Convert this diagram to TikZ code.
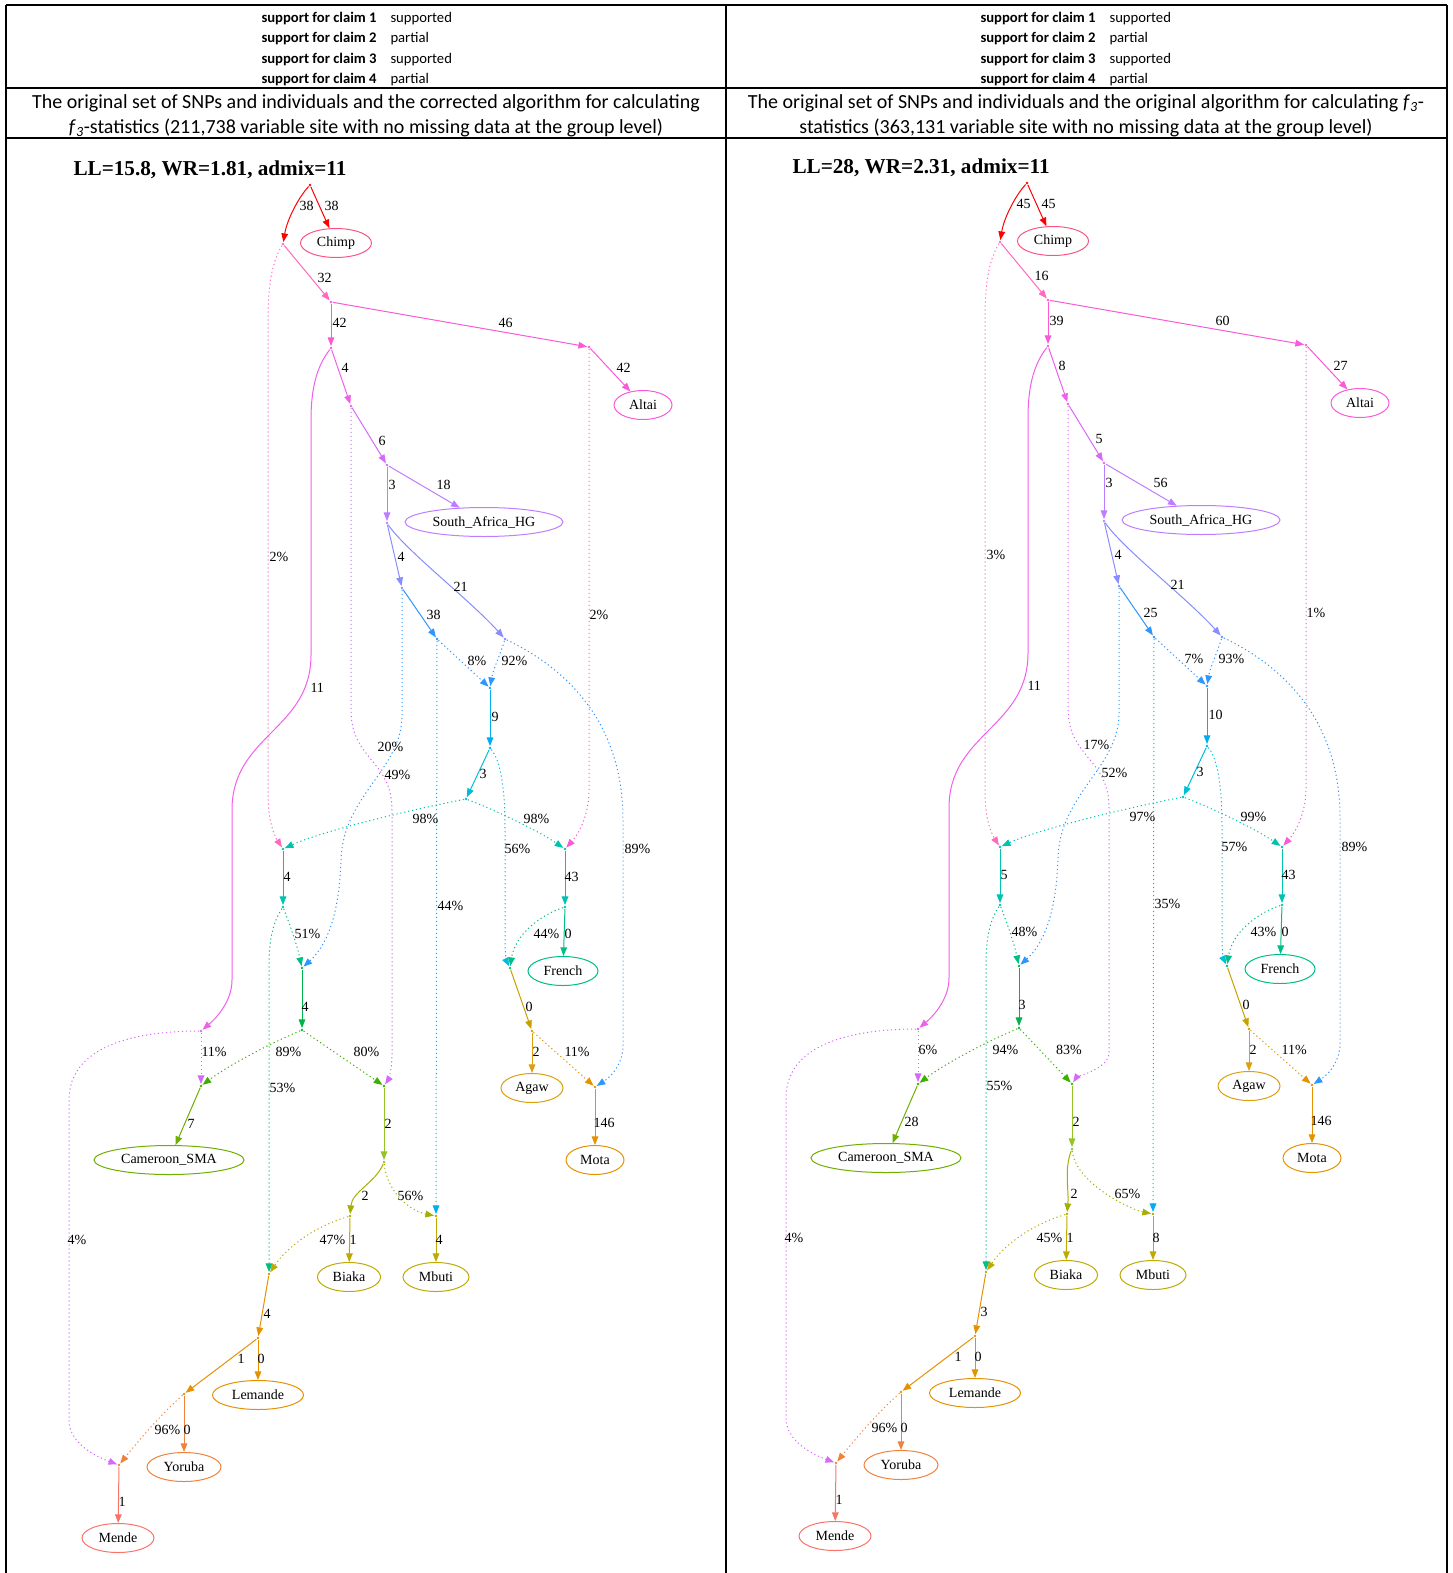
\documentclass[tikz,border=0pt]{standalone}
\usepackage{fontspec}
\setmainfont{Carlito}
\newfontfamily\timesrm{Liberation Serif}
\usetikzlibrary{arrows.meta,shapes.geometric}

\definecolor{cRed}{RGB}{255,0,0}
\definecolor{cChimp}{RGB}{250,85,130}
\definecolor{cRose}{RGB}{255,105,190}
\definecolor{cPink}{RGB}{250,90,215}
\definecolor{cMag}{RGB}{240,95,235}
\definecolor{cViolet}{RGB}{215,105,250}
\definecolor{cLav}{RGB}{190,125,255}
\definecolor{cPeri}{RGB}{135,140,255}
\definecolor{cBlue}{RGB}{45,150,255}
\definecolor{cSky}{RGB}{0,175,240}
\definecolor{cCyan}{RGB}{0,190,215}
\definecolor{cTeal}{RGB}{0,195,175}
\definecolor{cJade}{RGB}{0,190,135}
\definecolor{cGreen}{RGB}{0,180,75}
\definecolor{cLGreen}{RGB}{60,175,0}
\definecolor{cYGreen}{RGB}{110,175,0}
\definecolor{cLime}{RGB}{150,195,40}
\definecolor{cOlive}{RGB}{165,175,0}
\definecolor{cKhaki}{RGB}{190,170,0}
\definecolor{cGold}{RGB}{200,160,0}
\definecolor{cAmber}{RGB}{220,160,15}
\definecolor{cOrange}{RGB}{230,145,0}
\definecolor{cCoral}{RGB}{240,130,60}
\definecolor{cSalmon}{RGB}{250,115,105}

\newcommand\gvfont{\timesrm\fontsize{10.5}{12}\selectfont}
\newcommand\setlabels[1]{\foreach \k/\val in {#1}{\expandafter\xdef\csname lbl\k\endcsname{\val}}}
\newcommand\lb[1]{\csname lbl#1\endcsname}

\tikzset{every picture/.style={line width=0.75pt}}
\tikzset{
  rule/.style={line width=1.5pt, black},
  claim/.style={anchor=west, inner sep=0pt, font=\fontsize{11}{13}\selectfont},
  hdr/.style={align=center, inner sep=0pt, font=\fontsize{15}{18.75}\selectfont},
  ttl/.style={anchor=west, inner sep=0pt, font=\timesrm\bfseries\fontsize{15.9}{18}\selectfont},
  vtx/.style={circle, fill=#1, draw=none, inner sep=0pt, minimum size=2.2pt},
  pop/.style={ellipse, draw=#1, line width=0.75pt, inner sep=0pt, minimum height=21.75pt, font=\gvfont},
  lbl/.style={anchor=west, inner sep=0pt, font=\gvfont},
  gv/.style={draw=#1, line width=0.75pt, -{Triangle[length=6.5pt,width=5pt]}},
  gvdot/.style={gv=#1, dash pattern=on 0.9pt off 2.1pt},
}

% one admixture graph, labels come from \setlabels
\newcommand\admixgraph{%
  %vertices
  \node[vtx=cRed] (r) at (310,185) {};
  \node[vtx=cRose] (v1) at (283,244) {};
  \node[vtx=cPink] (v2) at (331,302) {};
  \node[vtx=cPink] (v3) at (331,348) {};
  \node[vtx=cPink] (v4) at (589,347) {};
  \node[vtx=cMag] (v5) at (351,406) {};
  \node[vtx=cViolet] (v6) at (387,465) {};
  \node[vtx=cLav] (v7) at (387,523) {};
  \node[vtx=cPeri] (v8) at (402,588) {};
  \node[vtx=cPeri] (v9) at (505,639) {};
  \node[vtx=cBlue] (v10) at (437,639) {};
  \node[vtx=cBlue] (v11) at (490,688) {};
  \node[vtx=cSky] (v12) at (490,748) {};
  \node[vtx=cCyan] (v13) at (466,799) {};
  \node[vtx=cTeal] (v14) at (283,849) {};
  \node[vtx=cTeal] (v15) at (565,849) {};
  \node[vtx=cTeal] (v16) at (283,907) {};
  \node[vtx=cTeal] (v17) at (565,907) {};
  \node[vtx=cJade] (v18) at (510,968) {};
  \node[vtx=cGreen] (v19) at (302,968) {};
  \node[vtx=cGreen] (v20) at (302,1030) {};
  \node[vtx=cGold] (v21) at (532,1031) {};
  \node[vtx=cOrange] (v22) at (595,1087) {};
  \node[vtx=cLGreen] (v23) at (201,1086) {};
  \node[vtx=cViolet] (v24) at (201,1031) {};
  \node[vtx=cLGreen] (v25) at (\xB,1086) {};
  \node[vtx=cLime] (v26) at (\xB,\yB) {};
  \node[vtx=cOlive] (v27) at (350,1216) {};
  \node[vtx=cOlive] (v28) at (436,1216) {};
  \node[vtx=cKhaki] (v29) at (269,1274) {};
  \node[vtx=cOrange] (v30) at (258,1338) {};
  \node[vtx=cOrange] (v31) at (184,1394) {};
  \node[vtx=cCoral] (v32) at (119,1465) {};
  %populations
  \node[pop=cChimp, minimum width=53.3pt] (chimp) at (336,243) {Chimp};
  \node[pop=cPink, minimum width=43.5pt] (altai) at (643,405) {Altai};
  \node[pop=cLav, minimum width=118.5pt] (sahg) at (484,522) {South\_Africa\_HG};
  \node[pop=cJade, minimum width=52.5pt] (french) at (563,971) {French};
  \node[pop=cAmber, minimum width=46.5pt] (agaw) at (532,1088) {Agaw};
  \node[pop=cOrange, minimum width=43.5pt] (mota) at (595,1160) {Mota};
  \node[pop=cYGreen, minimum width=112.5pt] (cam) at (169,1160) {Cameroon\_SMA};
  \node[pop=cKhaki, minimum width=47.3pt] (biaka) at (349,1277) {Biaka};
  \node[pop=cKhaki, minimum width=49.5pt] (mbuti) at (436,1277) {Mbuti};
  \node[pop=cOrange, minimum width=68.3pt] (lem) at (258,1395) {Lemande};
  \node[pop=cCoral, minimum width=55.5pt] (yor) at (184,1467) {Yoruba};
  \node[pop=cSalmon, minimum width=54pt] (mende) at (118,1538) {Mende};
  %drift edges
  \draw[gv=cRed] (r) .. controls (298,198) and (287,220) .. (v1);
  \draw[gv=cRed] (r) -- (chimp);
  \draw[gv=cRose] (v1) -- (v2);
  \draw[gv=cPink] (v2) -- (v3);
  \draw[gv=cPink] (v2) -- (v4);
  \draw[gv=cPink] (v4) -- (altai);
  \draw[gv=cMag] (v3) -- (v5);
  \draw[gv=cViolet] (v5) -- (v6);
  \draw[gv=cLav] (v6) -- (v7);
  \draw[gv=cLav] (v6) -- (sahg);
  \draw[gv=cPeri] (v7) -- (v8);
  \draw[gv=cPeri] (v7) .. controls (405,550) and (470,600) .. (v9);
  \draw[gv=cBlue] (v8) -- (v10);
  \draw[gv=cSky] (v11) -- (v12);
  \draw[gv=cCyan] (v12) -- (v13);
  \draw[gv=cMag] (v3) .. controls (318,365) and (311,385) .. (311,420) -- (311,655) .. controls (311,730) and (232,735) .. (232,810) -- (232,980) .. controls (232,1003) and (214,1020) .. (v24);
  \draw[gv=cTeal] (v14) -- (v16);
  \draw[gv=cTeal] (v15) -- (v17);
  \draw[gv=cJade] (v17) -- (french);
  \draw[gv=cGreen] (v19) -- (v20);
  \draw[gv=cGold] (v18) -- (v21);
  \draw[gv=cAmber] (v21) -- (agaw);
  \draw[gv=cOrange] (v22) -- (mota);
  \draw[gv=cYGreen] (v23) -- (cam);
  \draw[gv=cLime] (v25) -- (v26);
  \draw[gv=cOlive] (v26) .. controls ({\xB-8},{\yB+20}) and (352,1192) .. (v27);
  \draw[gv=cKhaki] (v27) -- (biaka);
  \draw[gv=cKhaki] (v28) -- (mbuti);
  \draw[gv=cOrange] (v29) -- (v30);
  \draw[gv=cOrange] (v30) -- (lem);
  \draw[gv=cOrange] (v30) -- (v31);
  \draw[gv=cCoral] (v31) -- (yor);
  \draw[gv=cSalmon] (v32) -- (mende);
  %admixture edges
  \draw[gvdot=cBlue] (v10) -- (v11);
  \draw[gvdot=cBlue] (v9) .. controls (500,655) and (493,670) .. (v11);
  \draw[gvdot=cRose] (v1) .. controls (272,262) and (268,285) .. (268,320) -- (268,795) .. controls (268,820) and (274,835) .. (v14);
  \draw[gvdot=cPink] (v4) -- (589,790) .. controls (589,820) and (575,838) .. (v15);
  \draw[gvdot=cTeal] (v13) .. controls (400,812) and (320,832) .. (v14);
  \draw[gvdot=cTeal] (v13) .. controls (500,812) and (540,832) .. (v15);
  \draw[gvdot=cViolet] (v5) -- (351,710) .. controls (351,760) and (392,760) .. (392,810) -- (392,1055) .. controls (392,1070) and ({\xB+4},1080) .. (v25);
  \draw[gvdot=cBlue] (v8) -- (402,715) .. controls (402,770) and (343,795) .. (341,860) .. controls (339,925) and (322,950) .. (v19);
  \draw[gvdot=cSky] (v10) -- (v28);
  \draw[gvdot=cBlue] (v9) .. controls (580,675) and (623,735) .. (623,820) -- (623,1045) .. controls (623,1068) and (606,1080) .. (v22);
  \draw[gvdot=cCyan] (v12) .. controls (500,760) and (505,785) .. (505,830) -- (505,945) .. controls (505,955) and (507,962) .. (v18);
  \draw[gvdot=cJade] (v17) .. controls (540,915) and (515,935) .. (v18);
  \draw[gvdot=cJade] (v16) .. controls (290,925) and (297,945) .. (v19);
  \draw[gvdot=cJade] (v16) .. controls (273,922) and (269,940) .. (269,965) -- (v29);
  \draw[gvdot=cOrange] (v21) -- (v22);
  \draw[gvdot=cLGreen] (v20) .. controls (260,1048) and (225,1068) .. (v23);
  \draw[gvdot=cLGreen] (v20) -- (v25);
  \draw[gvdot=cViolet] (v24) -- (v23);
  \draw[gvdot=cViolet] (v24) .. controls (150,1031) and (69,1040) .. (69,1100) -- (69,1420) .. controls (69,1445) and (100,1458) .. (v32);
  \draw[gvdot=cOlive] (v26) .. controls ({\xB+4},{\yB+35}) and (415,1212) .. (v28);
  \draw[gvdot=cKhaki] (v27) .. controls (310,1228) and (285,1250) .. (v29);
  \draw[gvdot=cCoral] (v31) .. controls (160,1415) and (135,1445) .. (v32);
  % Text Node
  \foreach \k/\x/\y in {r1/299/206, rch/324/206, 12/317/278, 23/332/323, 24/498/323, 4al/616/368,
      35/341/368, 56/378/441, 67/388/485, 6sa/436/485, 78/397/557, 79/453/587, 810/426/615,
      1011/467/661, 911/501/661, 1112/491/717, 1213/479/774, 114/269/557, 415/589/615,
      1314/412/819, 1315/523/819, 324/310/688, 819/384/775, 1028/437/906, 922/624/849,
      1218/504/849, 1416/283/877, 1517/564/877, 17fr/564/934, 1718/533/934, 1619/294/934,
      1629/269/1088, 1920/301/1007, 1821/525/1007, 21ag/532/1052, 2122/564/1052, 22mo/593/1123,
      2023/275/1052, 2423/201/1052, 2432/67/1240, 23cam/187/1124, 2628/397/1196, 27bi/349/1240,
      28mb/435/1240, 2729/319/1240, 2930/263/1314, 30lem/257/1359, 3031/237/1359,
      31yor/183/1430, 3132/154/1430, 32men/118/1502}
    {\node[lbl] (t\k) at (\x,\y) {\lb{\k}};}
  \node[lbl] (t525) at (\xD,747) {\lb{525}};
  \node[lbl] (t2025) at ({(302+\xB)/2+10},1052) {\lb{2025}};
  \node[lbl] (t2526) at (\xB,1124) {\lb{2526}};
  \node[lbl] (t2627) at (\xC,1196) {\lb{2627}};
}

\begin{document}
\begin{tikzpicture}[x=0.75pt,y=0.75pt,yscale=-1,xscale=1]
  \useasboundingbox (0,0) rectangle (1452,1573);

  %table rules
  \draw[rule] (6,5) -- (1447,5);
  \draw[rule] (6,88) -- (1447,88);
  \draw[rule] (6,138.5) -- (1447,138.5);
  \draw[rule] (6,5) -- (6,1573);
  \draw[rule] (726,5) -- (726,1573);
  \draw[rule] (1447,5) -- (1447,1573);

  %claims
  \foreach \i/\val in {1/supported,2/partial,3/supported,4/partial}{
    \pgfmathsetmacro\yy{18.5+(\i-1)*20.35}
    \node[claim] (L-k\i) at (261,\yy) {\textbf{support for claim \i}};
    \node[claim] (L-s\i) at (390,\yy) {\val};
    \node[claim] (R-k\i) at (980,\yy) {\textbf{support for claim \i}};
    \node[claim] (R-s\i) at (1109,\yy) {\val};
  }

  % Text Node
  \node[hdr] (L-head) at (366,116) {The original set of SNPs and individuals and the corrected algorithm for calculating\\\textit{f}\textsubscript{\textit{3}}-statistics (211,738 variable site with no missing data at the group level)};
  % Text Node
  \node[hdr] (R-head) at (1086,116) {The original set of SNPs and individuals and the original algorithm for calculating \textit{f}\textsubscript{\textit{3}}-\\statistics (363,131 variable site with no missing data at the group level)};

  \node[ttl] (L-title) at (73,170) {LL=15.8, WR=1.81, admix=11};
  \node[ttl] (R-title) at (792,168) {LL=28, WR=2.31, admix=11};

  %left graph
  \setlabels{r1/38, rch/38, 12/32, 23/42, 24/46, 4al/42, 35/4, 56/6, 67/3, 6sa/18, 78/4, 79/21,
    810/38, 1011/8\%, 911/92\%, 1112/9, 1213/3, 114/2\%, 415/2\%, 1314/98\%, 1315/98\%, 324/11,
    525/20\%, 819/49\%, 1028/44\%, 922/89\%, 1218/56\%, 1416/4, 1517/43, 17fr/0, 1718/44\%,
    1619/51\%, 1629/53\%, 1920/4, 1821/0, 21ag/2, 2122/11\%, 22mo/146, 2023/89\%, 2025/80\%,
    2423/11\%, 2432/4\%, 23cam/7, 2526/2, 2627/2, 2628/56\%, 27bi/1, 28mb/4, 2729/47\%,
    2930/4, 30lem/0, 3031/1, 31yor/0, 3132/96\%, 32men/1}
  \def\xB{384}\def\yB{1162}\def\xC{361}\def\xD{377}
  \begin{scope}[name prefix=L-]
    \admixgraph
  \end{scope}

  %right graph
  \setlabels{r1/45, rch/45, 12/16, 23/39, 24/60, 4al/27, 35/8, 56/5, 67/3, 6sa/56, 78/4, 79/21,
    810/25, 1011/7\%, 911/93\%, 1112/10, 1213/3, 114/3\%, 415/1\%, 1314/97\%, 1315/99\%, 324/11,
    525/17\%, 819/52\%, 1028/35\%, 922/89\%, 1218/57\%, 1416/5, 1517/43, 17fr/0, 1718/43\%,
    1619/48\%, 1629/55\%, 1920/3, 1821/0, 21ag/2, 2122/11\%, 22mo/146, 2023/94\%, 2025/83\%,
    2423/6\%, 2432/4\%, 23cam/28, 2526/2, 2627/2, 2628/65\%, 27bi/1, 28mb/8, 2729/45\%,
    2930/3, 30lem/0, 3031/1, 31yor/0, 3132/96\%, 32men/1}
  \def\xB{355}\def\yB{1151}\def\xC{353}\def\xD{366}
  \begin{scope}[shift={(717,-2)},name prefix=R-]
    \admixgraph
  \end{scope}
\end{tikzpicture}
\end{document}
